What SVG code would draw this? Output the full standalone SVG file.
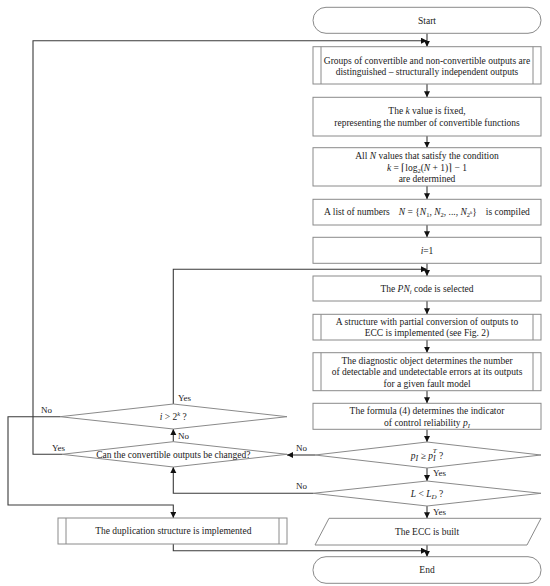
<svg xmlns="http://www.w3.org/2000/svg" width="550" height="586" viewBox="0 0 550 586">
<defs>
<style>
.b{fill:#fff;stroke:#8a8a8a;stroke-width:1}
.in{stroke:#8a8a8a;stroke-width:1;fill:none}
.c{fill:none;stroke:#3a3a3a;stroke-width:1.1}
text{font-family:"Liberation Serif","Times New Roman",serif;font-size:9.5px;fill:#1a1a1a;text-anchor:middle}
.lb{font-size:9px;text-anchor:start}
.i{font-style:italic}
</style>
<marker id="ah" markerUnits="userSpaceOnUse" markerWidth="7" markerHeight="7" refX="6" refY="3" orient="auto"><path d="M0,0 L6,3 L0,6 z" fill="#111"/></marker>
</defs>
<rect width="550" height="586" fill="#fff"/>
<g id="connectors">
<path class="c" d="M427,33.3 V46.7" marker-end="url(#ah)"/>
<path class="c" d="M62,454.3 H33 V40.7 H427" marker-end="url(#ah)"/>
<path class="c" d="M427,84 V97.3" marker-end="url(#ah)"/>
<path class="c" d="M427,136 V147.7" marker-end="url(#ah)"/>
<path class="c" d="M427,186 V199.3" marker-end="url(#ah)"/>
<path class="c" d="M427,225 V237.3" marker-end="url(#ah)"/>
<path class="c" d="M427,263.3 V276" marker-end="url(#ah)"/>
<path class="c" d="M173.3,404 V269.3 H427" marker-end="url(#ah)"/>
<path class="c" d="M427,301 V314.3" marker-end="url(#ah)"/>
<path class="c" d="M427,340 V352.7" marker-end="url(#ah)"/>
<path class="c" d="M427,390.7 V403.3" marker-end="url(#ah)"/>
<path class="c" d="M427,429.3 V442" marker-end="url(#ah)"/>
<path class="c" d="M315,455 H287" marker-end="url(#ah)"/>
<path class="c" d="M427,468 V481" marker-end="url(#ah)"/>
<path class="c" d="M313,493.3 H173.3 V467" marker-end="url(#ah)"/>
<path class="c" d="M427,506 V518.3" marker-end="url(#ah)"/>
<path class="c" d="M427,545 V556.7" marker-end="url(#ah)"/>
<path class="c" d="M173.3,441.7 V429" marker-end="url(#ah)"/>
<path class="c" d="M60,416.7 H8 V505 H173.3 V518" marker-end="url(#ah)"/>
<path class="c" d="M173.3,544 V550.7 H427" marker-end="url(#ah)"/>
</g>
<g id="labels">
<text class="lb" x="433" y="476">Yes</text>
<text class="lb" x="433" y="515">Yes</text>
<text class="lb" x="296" y="451">No</text>
<text class="lb" x="296" y="489">No</text>
<text class="lb" x="178" y="401">Yes</text>
<text class="lb" x="41" y="413">No</text>
<text class="lb" x="178" y="439">No</text>
<text class="lb" x="52" y="451">Yes</text>
</g>
<g id="start"><rect class="b" x="313" y="7.3" width="228" height="26" rx="13"/><text x="427" y="23.6">Start</text></g>
<g id="groups"><rect class="b" x="313" y="46.7" width="228" height="37.3"/><path class="in" d="M321,46.7 V84 M533,46.7 V84"/><text x="427" y="64">Groups of convertible and non-convertible outputs are</text><text x="427" y="74.5">distinguished – structurally independent outputs</text></g>
<g id="kvalue"><rect class="b" x="313" y="97.3" width="228" height="38.7"/><text x="427" y="113.5">The <tspan class="i">k</tspan> value is fixed,</text><text x="427" y="125.5">representing the number of convertible functions</text></g>
<g id="allN"><rect class="b" x="313" y="147.7" width="228" height="38.3"/><text x="427" y="158.5">All <tspan class="i">N</tspan> values that satisfy the condition</text><text x="427" y="170.5"><tspan class="i">k</tspan> = ⌈log<tspan font-size="6.5" dy="2">2</tspan><tspan dy="-2">(</tspan><tspan class="i">N</tspan> + 1)⌉ − 1</text><text x="427" y="182">are determined</text></g>
<g id="list"><rect class="b" x="313" y="199.3" width="228" height="25.7"/><text x="427" y="215.3">A list of numbers<tspan class="i" dx="9">N</tspan> = {<tspan class="i">N</tspan><tspan font-size="6.5" dy="2">1</tspan><tspan dy="-2">, </tspan><tspan class="i">N</tspan><tspan font-size="6.5" dy="2">2</tspan><tspan dy="-2">, ..., </tspan><tspan class="i">N</tspan><tspan font-size="6.5" dy="2">2</tspan><tspan font-size="5" class="i" dy="-3">k</tspan><tspan dy="1">}</tspan><tspan dx="9">is compiled</tspan></text></g>
<g id="i1"><rect class="b" x="313" y="237.3" width="228" height="26"/><text x="427" y="253.6"><tspan class="i">i</tspan>=1</text></g>
<g id="pn"><rect class="b" x="313" y="276" width="228" height="25"/><text x="427" y="291.8">The <tspan class="i">PN</tspan><tspan class="i" font-size="6.5" dy="2">i</tspan><tspan dy="-2"> code is selected</tspan></text></g>
<g id="structure"><rect class="b" x="313" y="314.3" width="228" height="25.7"/><path class="in" d="M321,314.3 V340 M533,314.3 V340"/><text x="427" y="324.5">A structure with partial conversion of outputs to</text><text x="427" y="336">ECC is implemented (see Fig. 2)</text></g>
<g id="diag"><rect class="b" x="313" y="352.7" width="228" height="38"/><path class="in" d="M321,352.7 V390.7 M533,352.7 V390.7"/><text x="427" y="363.5">The diagnostic object determines the number</text><text x="427" y="375">of detectable and undetectable errors at its outputs</text><text x="427" y="386.5">for a given fault model</text></g>
<g id="formula"><rect class="b" x="313" y="403.3" width="228" height="26"/><text x="427" y="413.8">The formula (4) determines the indicator</text><text x="427" y="425.5">of control reliability <tspan class="i">p</tspan><tspan class="i" font-size="6.5" dy="2">I</tspan></text></g>
<g id="pdec"><polygon class="b" points="315,455 427,442 541,455 427,468"/><text x="427" y="459" font-size="12"><tspan class="i">p</tspan><tspan class="i" font-size="8" dy="2">I</tspan><tspan dy="-2"> ≥ </tspan><tspan class="i">p</tspan><tspan class="i" font-size="8" dy="2">I</tspan><tspan class="i" font-size="7" dx="-3" dy="-8">T</tspan><tspan dy="6"> ?</tspan></text></g>
<g id="ldec"><polygon class="b" points="313,493.3 427,481 541,493.3 427,506"/><text x="427" y="497" font-size="11"><tspan class="i">L</tspan> &lt; <tspan class="i">L</tspan><tspan class="i" font-size="7" dy="2">D</tspan><tspan dy="-2"> ?</tspan></text></g>
<g id="ecc"><polygon class="b" points="329,518.3 541,518.3 527,545 315,545"/><text x="427" y="535">The ECC is built</text></g>
<g id="end"><rect class="b" x="313" y="556.7" width="228" height="26.6" rx="13"/><text x="427" y="573.3">End</text></g>
<g id="idec"><polygon class="b" points="60,416.7 173.3,404 287,416.7 173.3,429"/><text x="173.3" y="420.3" font-size="10"><tspan class="i">i</tspan> &gt; 2<tspan class="i" font-size="6.5" dy="-4">k</tspan><tspan dy="4"> ?</tspan></text></g>
<g id="candec"><polygon class="b" points="62,454.3 173.3,441.7 287,454.3 173.3,467"/><text x="173.3" y="457.6">Can the convertible outputs be changed?</text></g>
<g id="dup"><rect class="b" x="58" y="518" width="229" height="26"/><path class="in" d="M66,518 V544 M279,518 V544"/><text x="173.3" y="534.3">The duplication structure is implemented</text></g>
</svg>
